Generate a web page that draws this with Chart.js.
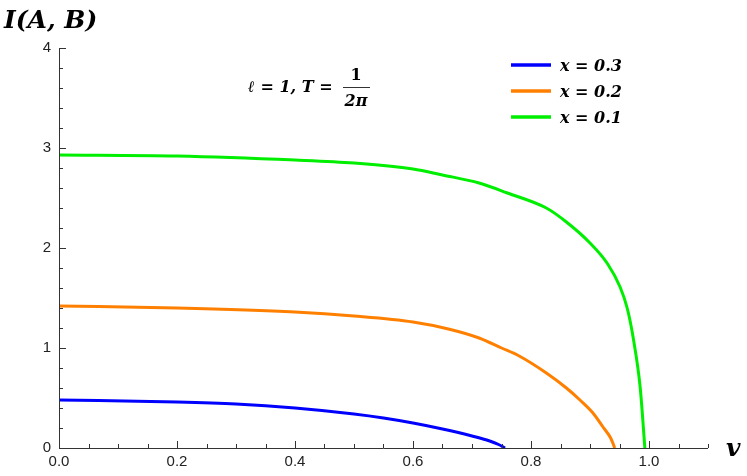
<!DOCTYPE html>
<html>
<head>
<meta charset="utf-8">
<script src="https://cdn.jsdelivr.net/npm/chart.js@4/dist/chart.umd.min.js"></script>
<style>
  body { margin: 0; background: #fff; }
  #wrap { width: 747px; height: 476px; }
</style>
</head>
<body>
<div id="wrap"><canvas id="c"></canvas></div>
<script>
// values
const seriesNames = ['x = 0.3', 'x = 0.2', 'x = 0.1'];
const seriesColors = ['#0000ff', '#ff8000', '#00ee00'];
const blueV = [0, 0.2, 0.3, 0.4, 0.5, 0.55, 0.6, 0.65, 0.7, 0.73, 0.745, 0.756];
const blueI = [0.48, 0.46, 0.44, 0.40, 0.34, 0.30, 0.25, 0.19, 0.12, 0.07, 0.035, 0];
const orangeV = [0, 0.2, 0.4, 0.5, 0.6, 0.66, 0.712, 0.75, 0.78, 0.826, 0.86, 0.883, 0.905, 0.922, 0.935, 0.942];
const orangeI = [1.42, 1.40, 1.36, 1.32, 1.26, 1.19, 1.10, 1.00, 0.92, 0.75, 0.60, 0.48, 0.35, 0.21, 0.10, 0];
const greenV = [0, 0.2, 0.4, 0.5, 0.6, 0.65, 0.712, 0.76, 0.826, 0.86, 0.9, 0.93, 0.951, 0.963, 0.973, 0.985, 0.993];
const greenI = [2.93, 2.92, 2.88, 2.85, 2.79, 2.73, 2.65, 2.55, 2.40, 2.26, 2.05, 1.84, 1.61, 1.40, 1.11, 0.61, 0];
const xTicks = [0, 0.2, 0.4, 0.6, 0.8, 1.0];
const yTicks = [0, 1, 2, 3, 4];

const toPts = (xs, ys) => xs.map((x, i) => ({ x, y: ys[i] }));
const curves = [toPts(blueV, blueI), toPts(orangeV, orangeI), toPts(greenV, greenI)];

const decor = {
  id: 'decor',
  afterDraw(chart) {
    const ctx = chart.ctx;
    const xs = chart.scales.x, ys = chart.scales.y;
    const a = chart.chartArea;
    ctx.save();
    ctx.strokeStyle = '#333';
    ctx.lineWidth = 1;
    // axes lines and inward ticks
    ctx.beginPath();
    ctx.moveTo(a.left + 0.5, a.top); ctx.lineTo(a.left + 0.5, a.bottom);
    ctx.moveTo(a.left, a.bottom + 0.5); ctx.lineTo(a.right, a.bottom + 0.5);
    for (let v = 0; v <= 1.1001; v += 0.05) {
      const px = Math.round(xs.getPixelForValue(v)) + 0.5;
      const major = Math.abs(v * 5 - Math.round(v * 5)) < 1e-6;
      ctx.moveTo(px, a.bottom); ctx.lineTo(px, a.bottom - (major ? 7 : 4));
    }
    for (let v = 0; v <= 4.0001; v += 0.2) {
      const py = Math.round(ys.getPixelForValue(v)) + 0.5;
      const major = Math.abs(v - Math.round(v)) < 1e-6;
      ctx.moveTo(a.left, py); ctx.lineTo(a.left + (major ? 7 : 4), py);
    }
    ctx.stroke();

    // axis titles
    ctx.fillStyle = '#000';
    ctx.font = 'italic bold 25px "DejaVu Serif", serif';
    ctx.textBaseline = 'alphabetic';
    ctx.fillText('I(A, B)', 4, 28);
    ctx.fillText('v', 726, 456);

    // annotation l = 1, T = 1/(2π)
    ctx.font = 'italic bold 16px "DejaVu Serif", serif';
    ctx.fillText('ℓ = 1, T =', 248, 92);
    ctx.font = 'bold 16px "DejaVu Serif", serif';
    ctx.textAlign = 'center';
    ctx.fillText('1', 356, 80);
    ctx.font = 'italic bold 16px "DejaVu Serif", serif';
    ctx.fillText('2π', 356, 106);
    ctx.beginPath(); ctx.moveTo(343, 87.5); ctx.lineTo(370, 87.5); ctx.lineWidth = 1; ctx.stroke();
    ctx.textAlign = 'left';

    // legend
    ctx.font = 'italic bold 16px "DejaVu Serif", serif';
    seriesNames.forEach((name, i) => {
      const y = 65 + i * 26;
      ctx.strokeStyle = seriesColors[i];
      ctx.lineWidth = 3.5;
      ctx.beginPath(); ctx.moveTo(511, y); ctx.lineTo(551, y); ctx.stroke();
      ctx.fillText(name, 560, y + 6);
    });
    ctx.restore();
  }
};

new Chart(document.getElementById('c'), {
  type: 'line',
  data: {
    datasets: curves.map((pts, i) => ({
      label: seriesNames[i],
      data: pts,
      borderColor: seriesColors[i],
      borderWidth: 3,
      pointRadius: 0,
      cubicInterpolationMode: 'monotone',
      fill: false
    }))
  },
  options: {
    responsive: true,
    maintainAspectRatio: false,
    animation: false,
    layout: { padding: { top: 48, right: 39, left: 0, bottom: 0 } },
    plugins: { legend: { display: false }, tooltip: { enabled: false } },
    scales: {
      x: {
        type: 'linear', min: 0, max: 1.1,
        afterBuildTicks: s => { s.ticks = xTicks.map(v => ({ value: v })); },
        afterFit: s => { s.height = 28; },
        grid: { display: false, drawTicks: false },
        border: { display: false },
        ticks: { color: '#222', font: { size: 15, family: 'Liberation Sans' }, padding: 5,
                 callback: v => v.toFixed(1) }
      },
      y: {
        type: 'linear', min: 0, max: 4,
        afterBuildTicks: s => { s.ticks = yTicks.map(v => ({ value: v })); },
        afterFit: s => { s.width = 59; },
        grid: { display: false, drawTicks: false },
        border: { display: false },
        ticks: { color: '#222', font: { size: 15, family: 'Liberation Sans' }, padding: 8 }
      }
    }
  },
  plugins: [decor]
});
</script>
</body>
</html>
